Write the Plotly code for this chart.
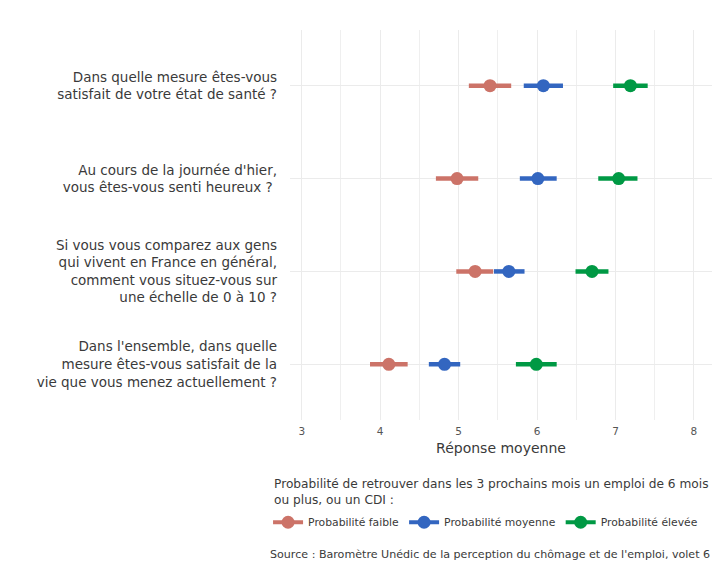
import plotly.graph_objects as go

# Questions (top to bottom)
questions = [
    "Dans quelle mesure êtes-vous<br>satisfait de votre état de santé ?",
    "Au cours de la journée d'hier,<br>vous êtes-vous senti heureux ? ",
    "Si vous vous comparez aux gens<br>qui vivent en France en général,<br>comment vous situez-vous sur<br>une échelle de 0 à 10 ?",
    "Dans l'ensemble, dans quelle<br>mesure êtes-vous satisfait de la<br>vie que vous menez actuellement ?",
]

groups = ["Probabilité faible", "Probabilité moyenne", "Probabilité élevée"]
colors = ["#CC7368", "#3366C0", "#009944"]

# mean and confidence bounds per group, in question order
means = {
    "Probabilité faible": [5.40, 4.98, 5.21, 4.11],
    "Probabilité moyenne": [6.08, 6.01, 5.64, 4.82],
    "Probabilité élevée": [7.19, 7.04, 6.70, 5.99],
}
lows = {
    "Probabilité faible": [5.13, 4.71, 4.97, 3.87],
    "Probabilité moyenne": [5.83, 5.78, 5.45, 4.62],
    "Probabilité élevée": [6.97, 6.78, 6.49, 5.73],
}
highs = {
    "Probabilité faible": [5.67, 5.25, 5.44, 4.35],
    "Probabilité moyenne": [6.33, 6.25, 5.84, 5.02],
    "Probabilité élevée": [7.41, 7.28, 6.91, 6.25],
}

x_ticks = [3, 4, 5, 6, 7, 8]

text_col = "#3a3a3a"
font_name = "DejaVu Sans"

fig = go.Figure()

for g, c in zip(groups, colors):
    xs, ys, plus, minus = [], [], [], []
    for q, m, lo, hi in zip(questions, means[g], lows[g], highs[g]):
        # gaps keep the points unconnected; legend still shows line + dot
        xs += [m, None]
        ys += [q, None]
        plus += [hi - m, 0]
        minus += [m - lo, 0]
    fig.add_trace(go.Scatter(
        x=xs, y=ys, name=g, mode="lines+markers",
        connectgaps=False,
        line=dict(color=c, width=4),
        marker=dict(color=c, size=13),
        error_x=dict(type="data", symmetric=False, array=plus, arrayminus=minus,
                     color=c, thickness=4.5, width=0),
    ))

fig.update_layout(
    width=720, height=570,
    margin=dict(l=282, r=16, t=22, b=158, autoexpand=False),
    plot_bgcolor="white", paper_bgcolor="white",
    font=dict(family=font_name, color=text_col, size=12),
    xaxis=dict(
        range=[2.85, 8.23], tickvals=x_ticks, ticks="", ticklabelstandoff=3,
        showgrid=True, gridcolor="#EBEBEB", gridwidth=1.2,
        minor=dict(tick0=3.5, dtick=1, showgrid=True, gridcolor="#EFEFEF", gridwidth=1),
        zeroline=False, showline=False,
        tickfont=dict(size=10.5, color="#555555"),
        title=dict(text="Réponse moyenne", font=dict(size=14, color=text_col), standoff=7),
    ),
    yaxis=dict(
        type="category", categoryorder="array", categoryarray=questions,
        range=[3.6, -0.6], ticks="", ticklabelstandoff=12,
        showgrid=True, gridcolor="#EBEBEB", gridwidth=1.2,
        zeroline=False, showline=False,
        tickfont=dict(size=13.5, color=text_col),
    ),
    showlegend=True,
    legend=dict(
        orientation="h", x=-0.052, xanchor="left", y=-0.225, yanchor="top",
        font=dict(size=10.8, color=text_col),
        itemwidth=30, tracegroupgap=0,
    ),
    annotations=[
        dict(
            text="Probabilité de retrouver dans les 3 prochains mois un emploi de 6 mois<br>ou plus, ou un CDI :",
            xref="paper", yref="paper", x=-0.042, y=-0.14, xanchor="left", yanchor="top",
            align="left", showarrow=False, font=dict(size=12.2, color=text_col),
        ),
        dict(
            text="Source : Baromètre Unédic de la perception du chômage et de l'emploi, volet 6",
            xref="paper", yref="paper", x=1, y=-0.346, xanchor="right", yanchor="middle",
            showarrow=False, font=dict(size=11.1, color=text_col),
        ),
    ],
)

fig.write_html("out.html")
